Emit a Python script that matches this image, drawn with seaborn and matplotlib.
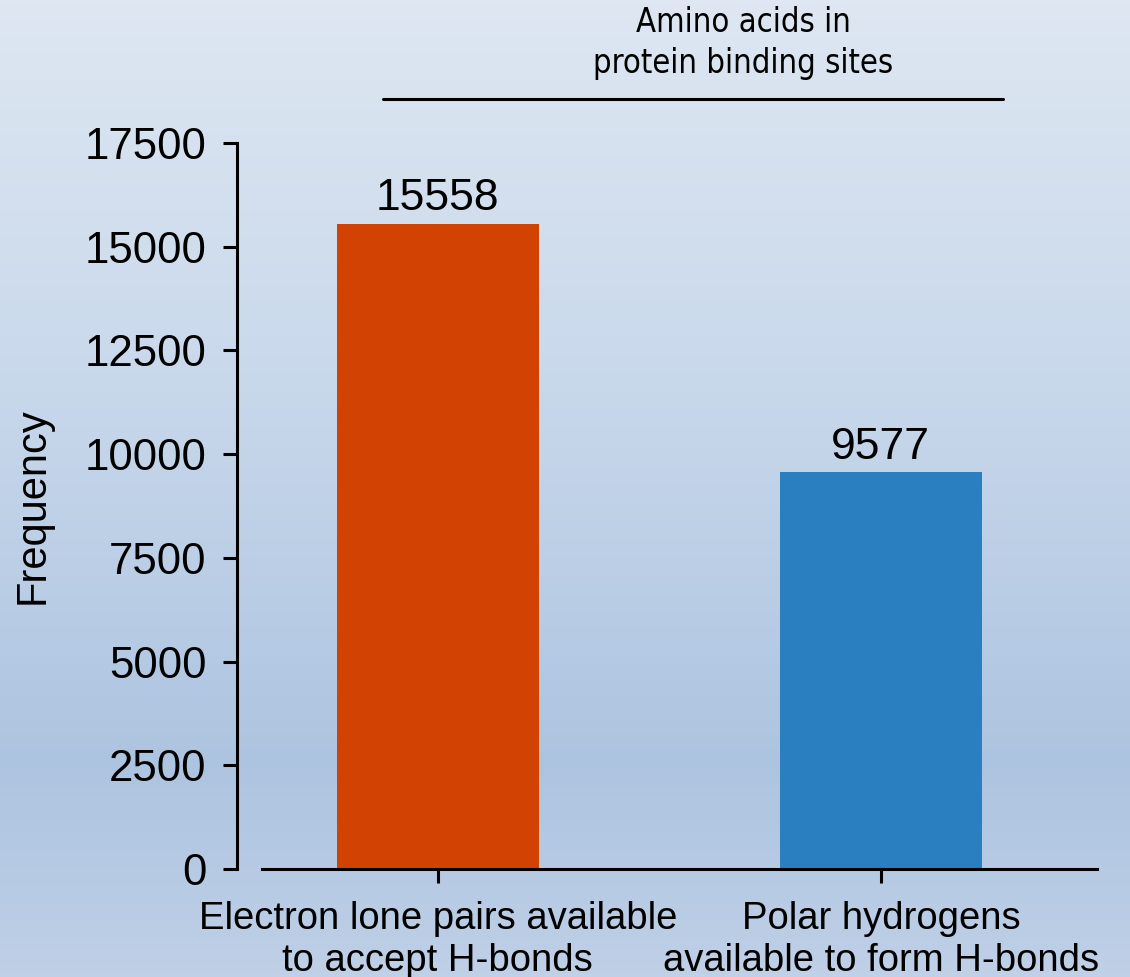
import numpy as np
import pandas as pd
import matplotlib
matplotlib.use("Agg")
import matplotlib.pyplot as plt
from matplotlib import font_manager
from matplotlib.colors import LinearSegmentedColormap
import seaborn as sns

# Data
categories = ["Electron lone pairs available\nto accept H-bonds",
              "Polar hydrogens\navailable to form H-bonds"]
frequencies = [15558, 9577]
bar_colors = ["#D24203", "#2A7FC1"]
y_ticks = [0, 2500, 5000, 7500, 10000, 12500, 15000, 17500]
header = "Amino acids in\nprotein binding sites"

df = pd.DataFrame({"category": categories, "frequency": frequencies})

sns.set_theme(style="ticks")
plt.rcParams["font.family"] = ["Liberation Sans", "DejaVu Sans"]
for key in ["text.color", "axes.labelcolor", "xtick.color", "ytick.color"]:
    plt.rcParams[key] = "black"

# Pick a narrow face for the header if one is installed
narrow = [f for f in font_manager.fontManager.ttflist
          if "Narrow" in f.name or "Condensed" in f.name
          or f.stretch in ("condensed", "semi-condensed")]
if narrow:
    header_font = dict(family=[narrow[0].name, "Liberation Sans"],
                       stretch=narrow[0].stretch, fontsize=23.5)
else:
    header_font = dict(family=["Liberation Sans"], fontsize=20)

fig = plt.figure(figsize=(11.3, 9.77), dpi=100)

# Vertical background gradient over the whole figure
bg = fig.add_axes([0, 0, 1, 1], zorder=-10)
grad_cmap = LinearSegmentedColormap.from_list(
    "bg", [(0.0, "#bfd0e7"), (0.22, "#adc4e0"), (0.6, "#c8d8eb"), (1.0, "#dee7f2")])
bg.imshow(np.linspace(0, 1, 256).reshape(-1, 1), aspect="auto", cmap=grad_cmap,
          origin="lower", extent=[0, 1, 0, 1])
bg.set_axis_off()

ax = fig.add_axes([262 / 1130, 1 - 869 / 977, (1097 - 262) / 1130, (869 - 143) / 977])
ax.patch.set_alpha(0)

sns.barplot(data=df, x="category", y="frequency", hue="category",
            palette=bar_colors, width=0.456, legend=False, ax=ax,
            saturation=1, edgecolor="none")

ax.set_xlim(-0.397, 1.488)
ax.set_ylim(0, 17500)
ax.set_yticks(y_ticks)
ax.set_yticklabels([str(v) for v in y_ticks])
ax.tick_params(axis="x", labelsize=27.5, length=10, width=2.2, pad=13)
ax.tick_params(axis="y", labelsize=31.5, length=10, width=2.2, pad=12)
ax.set_xlabel("")
ax.set_ylabel("Frequency", fontsize=30)
ax.yaxis.set_label_coords((53 - 262) / 835, 0.5)

for side in ["top", "right"]:
    ax.spines[side].set_visible(False)
for side in ["left", "bottom"]:
    ax.spines[side].set_linewidth(2.2)
    ax.spines[side].set_color("black")
ax.spines["left"].set_position(("outward", 18))

# Value labels above bars
for container in ax.containers:
    ax.bar_label(container, fmt="%d", fontsize=32, padding=3)

# Header with rule spanning the bars
ax.text(0.576, (869 - 43) / 726, header, transform=ax.transAxes, ha="center",
        va="center", linespacing=1.3, **header_font)
ax.plot([(383 - 262) / 835, (1003 - 262) / 835], [(869 - 99) / 726] * 2,
        transform=ax.transAxes, color="black", lw=2.2, clip_on=False)

fig.savefig("out.png", dpi=100)
